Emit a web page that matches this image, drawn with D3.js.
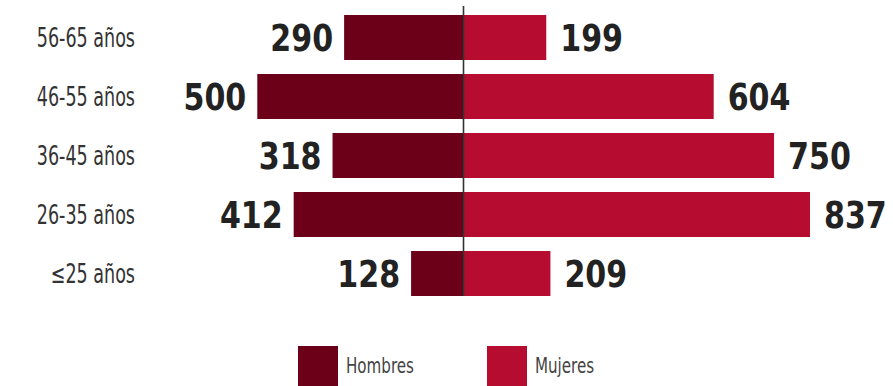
<!DOCTYPE html>
<html>
<head>
<meta charset="utf-8">
<script src="https://cdn.jsdelivr.net/npm/d3@7"></script>
<style>
  html, body { margin: 0; padding: 0; background: #fff; }
  svg { display: block; }
</style>
</head>
<body>
<div id="chart"></div>
<script>
(() => {

const categories = ['56-65 años', '46-55 años', '36-45 años', '26-35 años', '≤25 años'];
const hombres = [290, 500, 318, 412, 128];
const mujeres = [199, 604, 750, 837, 209];
const seriesNames = ['Hombres', 'Mujeres'];

const config = {
  width: 893,
  height: 386,
  center: 464,
  pxPerUnit: 0.4134,
  barTop: 8,
  step: 59,
  darkColor: '#6c0019',
  lightColor: '#b50c2f',
  font: '"DejaVu Sans Condensed", "Liberation Sans Narrow", sans-serif',
  // the original face is narrower than anything installed, squeeze it a bit
  valueSqueeze: 0.88,
  labelSqueeze: 0.75,
  legendSqueeze: 0.8
};

const svg = d3.select('#chart')
  .append('svg')
  .attr('width', config.width)
  .attr('height', config.height)
  .style('font-family', config.font);

const half = 1000 * config.pxPerUnit;
const x = d3.scaleLinear()
  .domain([-1000, 1000])
  .range([config.center - half, config.center + half]);

const y = d3.scaleBand()
  .domain(categories)
  .range([config.barTop, config.barTop + config.step * categories.length])
  .paddingInner(14 / 59)
  .paddingOuter(7 / 59);

const rows = categories.map((c, i) => ({cat: c, h: hombres[i], m: mujeres[i]}));
const mid = d => y(d) + y.bandwidth() / 2;

// hombres to the left
svg.selectAll('.bar-h')
  .data(rows)
  .enter()
  .append('rect')
  .attr('class', 'bar-h')
  .attr('x', d => x(-d.h))
  .attr('y', d => y(d.cat))
  .attr('width', d => x(0) - x(-d.h))
  .attr('height', y.bandwidth())
  .attr('fill', config.darkColor);

// mujeres to the right
svg.selectAll('.bar-m')
  .data(rows)
  .enter()
  .append('rect')
  .attr('class', 'bar-m')
  .attr('x', x(0))
  .attr('y', d => y(d.cat))
  .attr('width', d => x(d.m) - x(0))
  .attr('height', y.bandwidth())
  .attr('fill', config.lightColor);

// value labels
svg.selectAll('.val-h')
  .data(rows)
  .enter()
  .append('text')
  .attr('transform', d => `translate(${x(-d.h) - 11}, ${mid(d.cat)}) scale(${config.valueSqueeze}, 1)`)
  .attr('dy', '0.36em')
  .attr('text-anchor', 'end')
  .style('font-size', '38px')
  .style('font-weight', 700)
  .style('fill', '#222')
  .text(d => d.h);

svg.selectAll('.val-m')
  .data(rows)
  .enter()
  .append('text')
  .attr('transform', d => `translate(${x(d.m) + 14}, ${mid(d.cat)}) scale(${config.valueSqueeze}, 1)`)
  .attr('dy', '0.36em')
  .attr('text-anchor', 'start')
  .style('font-size', '38px')
  .style('font-weight', 700)
  .style('fill', '#222')
  .text(d => d.m);

// category labels
svg.selectAll('.cat')
  .data(categories)
  .enter()
  .append('text')
  .attr('transform', d => `translate(135, ${mid(d)}) scale(${config.labelSqueeze}, 1)`)
  .attr('dy', '0.36em')
  .attr('text-anchor', 'end')
  .style('font-size', '26px')
  .style('fill', '#333')
  .text(d => d);

// center line
svg.append('line')
  .attr('x1', x(0) - 0.5)
  .attr('x2', x(0) - 0.5)
  .attr('y1', 6)
  .attr('y2', y(categories[categories.length - 1]) + y.bandwidth())
  .attr('stroke', '#333')
  .attr('stroke-width', 1.6);

// legend
const legendX = [298, 487];
const legendColors = [config.darkColor, config.lightColor];
const legend = svg.selectAll('.legend')
  .data(seriesNames)
  .enter()
  .append('g')
  .attr('transform', (d, i) => `translate(${legendX[i]}, 346)`);

legend.append('rect')
  .attr('width', 40)
  .attr('height', 40)
  .attr('fill', (d, i) => legendColors[i]);

legend.append('text')
  .attr('transform', `translate(48, 27) scale(${config.legendSqueeze}, 1)`)
  .style('font-size', '21px')
  .style('fill', '#444')
  .text(d => d);

})();
</script>
</body>
</html>
